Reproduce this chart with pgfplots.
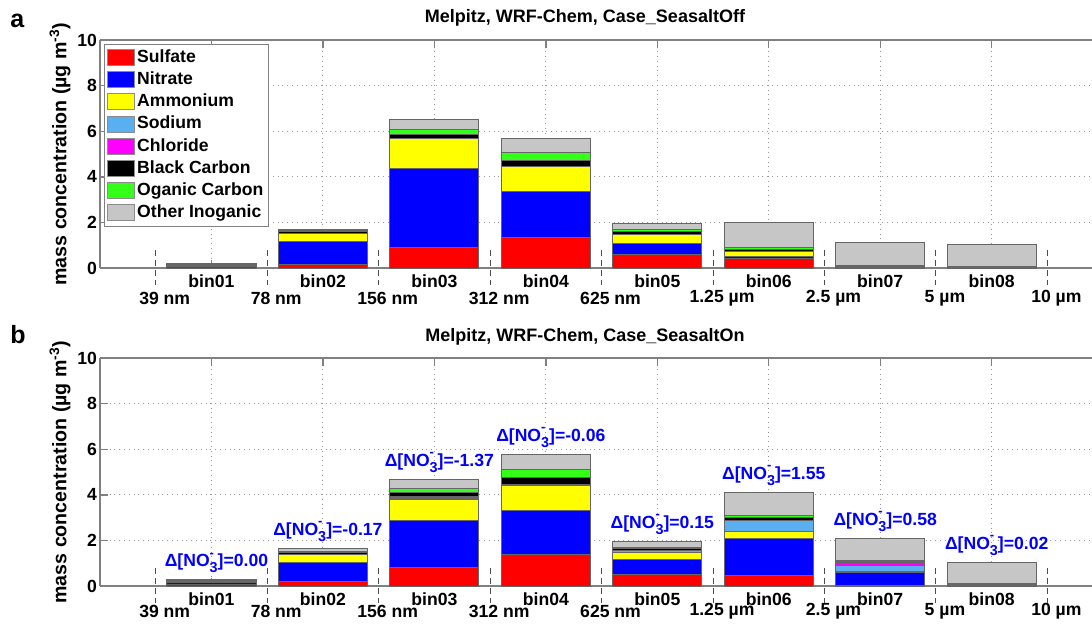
\documentclass[border=0pt]{standalone}
\usepackage{fontspec}
\setmainfont{Liberation Sans}
\usepackage{pgfplots}
\pgfplotsset{compat=1.18}
\usepackage{pgfplotstable}

\definecolor{cS}{RGB}{255,0,0}
\definecolor{cN}{RGB}{0,0,255}
\definecolor{cA}{RGB}{255,255,0}
\definecolor{cNa}{RGB}{90,175,240}
\definecolor{cCl}{RGB}{255,0,255}
\definecolor{cBC}{RGB}{0,0,0}
\definecolor{cOC}{RGB}{51,255,25}
\definecolor{cOT}{RGB}{198,198,198}
\definecolor{axgray}{RGB}{128,128,128}

% Case_SeasaltOff
\pgfplotstableread{
x S    N    A    Na   Cl   BC   OC   OT
1 0.05 0.06 0.03 0.00 0.00 0.03 0.01 0.02
2 0.16 0.99 0.37 0.00 0.00 0.08 0.03 0.08
3 0.89 3.47 1.31 0.00 0.00 0.19 0.21 0.45
4 1.35 2.00 1.08 0.00 0.00 0.29 0.35 0.60
5 0.58 0.51 0.39 0.00 0.00 0.12 0.08 0.29
6 0.43 0.09 0.20 0.00 0.00 0.09 0.10 1.07
7 0.02 0.02 0.01 0.00 0.00 0.02 0.05 1.01
8 0.01 0.01 0.00 0.00 0.00 0.02 0.04 0.94
}\tOff

% Case_SeasaltOn
\pgfplotstableread{
x S    N    A    Na   Cl   BC   OC   OT
1 0.08 0.06 0.04 0.01 0.01 0.03 0.03 0.02
2 0.21 0.82 0.35 0.01 0.01 0.09 0.04 0.13
3 0.79 2.10 0.90 0.04 0.09 0.19 0.17 0.40
4 1.38 1.94 1.07 0.02 0.05 0.30 0.35 0.66
5 0.50 0.66 0.30 0.08 0.03 0.08 0.06 0.25
6 0.45 1.64 0.31 0.47 0.02 0.10 0.12 0.99
7 0.01 0.60 0.01 0.27 0.16 0.03 0.06 0.94
8 0.01 0.03 0.00 0.01 0.01 0.02 0.04 0.93
}\tOn

\newcommand{\fs}{\fontsize{8.8}{10}\selectfont\bfseries}
\newcommand{\dno}[1]{Δ[NO\rlap{\raisebox{4.8pt}{\fontsize{6.5}{6.5}\selectfont -}}\raisebox{-3pt}{\fontsize{7.2}{7.2}\selectfont 3}]=#1}

\newcommand{\sizelabels}[1]{%
  \pgfplotsinvokeforeach{0.5,1.5,2.5,3.5,4.5,5.5,6.5,7.5,8.5}{%
    \draw[black!70, line width=0.5pt, dash pattern=on 3pt off 2pt] (axis cs:##1,0.8) -- (axis cs:##1,-0.75);}
  \node[font=\fs, xshift=4.5pt, yshift=#1] at (axis cs:0.5,0) {39 nm};
  \node[font=\fs, xshift=4.5pt, yshift=#1] at (axis cs:1.5,0) {78 nm};
  \node[font=\fs, xshift=4.5pt, yshift=#1] at (axis cs:2.5,0) {156 nm};
  \node[font=\fs, xshift=4.5pt, yshift=#1] at (axis cs:3.5,0) {312 nm};
  \node[font=\fs, xshift=4.5pt, yshift=#1] at (axis cs:4.5,0) {625 nm};
  \node[font=\fs, xshift=4.5pt, yshift=#1] at (axis cs:5.5,0) {1.25 µm};
  \node[font=\fs, xshift=4.5pt, yshift=#1] at (axis cs:6.5,0) {2.5 µm};
  \node[font=\fs, xshift=4.5pt, yshift=#1] at (axis cs:7.5,0) {5 µm};
  \node[font=\fs, xshift=4.5pt, yshift=#1] at (axis cs:8.5,0) {10 µm};
}

\newcommand{\mystack}[1]{%
  \addplot[fill=cS]  table[x=x,y=S]  {#1};
  \addplot[fill=cN]  table[x=x,y=N]  {#1};
  \addplot[fill=cA]  table[x=x,y=A]  {#1};
  \addplot[fill=cNa] table[x=x,y=Na] {#1};
  \addplot[fill=cCl] table[x=x,y=Cl] {#1};
  \addplot[fill=cBC] table[x=x,y=BC] {#1};
  \addplot[fill=cOC] table[x=x,y=OC] {#1};
  \addplot[fill=cOT] table[x=x,y=OT] {#1};
}

\pgfplotsset{
  mystyle/.style={
    scale only axis, width=496pt, height=114pt,
    xmin=0, xmax=8.9, ymin=0, ymax=10,
    ybar stacked, bar width=0.8,
    xtick={1,2,3,4,5,6,7,8},
    xticklabels={bin01,bin02,bin03,bin04,bin05,bin06,bin07,bin08},
    ytick={0,2,4,6,8,10},
    axis x line*=box, axis y line*=left,
    axis line style={-, draw=axgray, line width=0.7pt},
    tick style={draw=axgray, line width=0.7pt},
    major tick length=4pt, tick align=inside,
    grid=major, grid style={dotted, draw=black!40, line width=0.5pt},
    tick label style={font=\fs},
    yticklabel style={xshift=2pt},
    /pgf/number format/assume math mode=true,
    ylabel={mass concentration (µg m\textsuperscript{-3})},
    ylabel style={font=\fontsize{9.8}{11}\selectfont\bfseries, yshift=-3.5pt},
    clip=false,
    every axis plot/.append style={draw=black!60, line width=0.5pt},
    legend image code/.code={\draw[##1, draw=black!45, line width=0.5pt] (0pt,-4pt) rectangle (13.5pt,4pt);},
  }
}

\begin{document}
\begin{tikzpicture}
\useasboundingbox (0,0) rectangle (546pt,311.5pt);

\begin{axis}[mystyle, at={(50pt,177.5pt)}, anchor=south west,
  legend style={at={(0,1)}, anchor=north west, xshift=2pt, yshift=-2pt,
    draw=axgray, font=\fs, inner sep=1.2pt, row sep=0.4pt,
    nodes={inner sep=1.2pt, text height=6.5pt, text depth=1.8pt}},
  legend cell align=left]
\mystack{\tOff}
\legend{Sulfate,Nitrate,Ammonium,Sodium,Chloride,Black Carbon,Oganic Carbon,Other Inoganic}
\sizelabels{-15pt}
\end{axis}

\begin{axis}[mystyle, at={(50pt,18.5pt)}, anchor=south west]
\mystack{\tOn}
\sizelabels{-12.8pt}
\node[font=\fs, text=blue, anchor=base, xshift=2.5pt, yshift=6.5pt] at (axis cs:1,0.27) {\dno{0.00}};
\node[font=\fs, text=blue, anchor=base, xshift=2.5pt, yshift=6.5pt] at (axis cs:2,1.66) {\dno{-0.17}};
\node[font=\fs, text=blue, anchor=base, xshift=2.5pt, yshift=6.5pt] at (axis cs:3,4.68) {\dno{-1.37}};
\node[font=\fs, text=blue, anchor=base, xshift=2.5pt, yshift=6.5pt] at (axis cs:4,5.77) {\dno{-0.06}};
\node[font=\fs, text=blue, anchor=base, xshift=2.5pt, yshift=6.5pt] at (axis cs:5,1.96) {\dno{0.15}};
\node[font=\fs, text=blue, anchor=base, xshift=2.5pt, yshift=6.5pt] at (axis cs:6,4.10) {\dno{1.55}};
\node[font=\fs, text=blue, anchor=base, xshift=2.5pt, yshift=6.5pt] at (axis cs:7,2.08) {\dno{0.58}};
\node[font=\fs, text=blue, anchor=base, xshift=2.5pt, yshift=6.5pt] at (axis cs:8,1.05) {\dno{0.02}};
\end{axis}

\node[font=\fontsize{9}{10}\selectfont\bfseries, anchor=base] at (292.5pt,300pt) {Melpitz, WRF-Chem, Case\_SeasaltOff};
\node[font=\fontsize{9}{10}\selectfont\bfseries, anchor=base] at (292.5pt,141pt) {Melpitz, WRF-Chem, Case\_SeasaltOn};
\node[font=\fontsize{12.5}{13}\selectfont\bfseries, anchor=base west, inner sep=0pt] at (5pt,298pt) {a};
\node[font=\fontsize{12.5}{13}\selectfont\bfseries, anchor=base west, inner sep=0pt] at (5pt,140pt) {b};
\end{tikzpicture}
\end{document}
